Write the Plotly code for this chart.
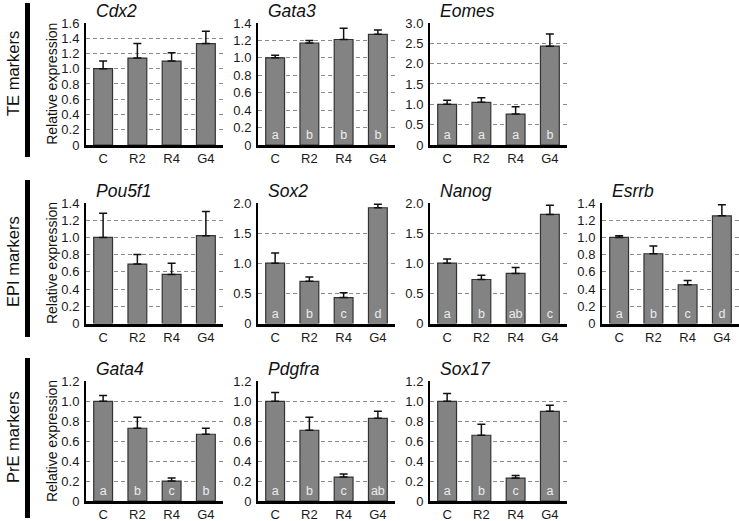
import plotly.graph_objects as go

groups = ["C", "R2", "R4", "G4"]

# mean relative expression and upper error (SEM) per gene
cdx2_mean = [1.00, 1.14, 1.10, 1.33]
cdx2_err = [0.10, 0.19, 0.11, 0.16]
gata3_mean = [1.00, 1.17, 1.21, 1.27]
gata3_err = [0.03, 0.03, 0.13, 0.05]
eomes_mean = [1.00, 1.05, 0.76, 2.43]
eomes_err = [0.10, 0.11, 0.18, 0.30]
pou5f1_mean = [1.00, 0.69, 0.57, 1.02]
pou5f1_err = [0.28, 0.11, 0.13, 0.28]
sox2_mean = [1.00, 0.70, 0.43, 1.92]
sox2_err = [0.17, 0.07, 0.08, 0.06]
nanog_mean = [1.00, 0.73, 0.83, 1.81]
nanog_err = [0.07, 0.07, 0.10, 0.15]
esrrb_mean = [1.00, 0.81, 0.45, 1.25]
esrrb_err = [0.02, 0.09, 0.05, 0.13]
gata4_mean = [1.00, 0.73, 0.20, 0.67]
gata4_err = [0.06, 0.11, 0.03, 0.06]
pdgfra_mean = [1.00, 0.71, 0.24, 0.83]
pdgfra_err = [0.09, 0.13, 0.03, 0.07]
sox17_mean = [1.00, 0.66, 0.23, 0.90]
sox17_err = [0.08, 0.11, 0.025, 0.06]

# significance letters
no_letters = ["", "", "", ""]
gata3_letters = ["a", "b", "b", "b"]
eomes_letters = ["a", "a", "a", "b"]
sox2_letters = ["a", "b", "c", "d"]
nanog_letters = ["a", "b", "ab", "c"]
esrrb_letters = ["a", "b", "c", "d"]
gata4_letters = ["a", "b", "c", "b"]
pdgfra_letters = ["a", "b", "c", "ab"]
sox17_letters = ["a", "b", "c", "a"]

# y tick values / labels
ticks_16 = [0, 0.2, 0.4, 0.6, 0.8, 1.0, 1.2, 1.4, 1.6]
ticks_14 = [0, 0.2, 0.4, 0.6, 0.8, 1.0, 1.2, 1.4]
ticks_12 = [0, 0.2, 0.4, 0.6, 0.8, 1.0, 1.2]
ticks_20 = [0, 0.5, 1.0, 1.5, 2.0]
ticks_30 = [0, 0.5, 1.0, 1.5, 2.0, 2.5, 3.0]

row_labels = ["TE markers", "EPI markers", "PrE markers"]
ylabel = "Relative expression"

# (name, mean, err, letters, ticks, row, col)
panels = [
    ("Cdx2", cdx2_mean, cdx2_err, no_letters, ticks_16, 0, 0),
    ("Gata3", gata3_mean, gata3_err, gata3_letters, ticks_14, 0, 1),
    ("Eomes", eomes_mean, eomes_err, eomes_letters, ticks_30, 0, 2),
    ("Pou5f1", pou5f1_mean, pou5f1_err, no_letters, ticks_14, 1, 0),
    ("Sox2", sox2_mean, sox2_err, sox2_letters, ticks_20, 1, 1),
    ("Nanog", nanog_mean, nanog_err, nanog_letters, ticks_20, 1, 2),
    ("Esrrb", esrrb_mean, esrrb_err, esrrb_letters, ticks_14, 1, 3),
    ("Gata4", gata4_mean, gata4_err, gata4_letters, ticks_12, 2, 0),
    ("Pdgfra", pdgfra_mean, pdgfra_err, pdgfra_letters, ticks_12, 2, 1),
    ("Sox17", sox17_mean, sox17_err, sox17_letters, ticks_12, 2, 2),
]

W, H = 739, 521
FONT = "Liberation Sans, Arial, sans-serif"
col_x = [86, 258, 430, 602]
panel_w = 137
row_top = [22.7, 202.7, 381.2]
row_bot = [145, 323.5, 501.0]


def fmt(v):
    return "0" if v == 0 else f"{v:.1f}"


fig = go.Figure()
layout = {}
annotations = []

for i, (name, mean, err, letters, ticks, r, c) in enumerate(panels):
    n = "" if i == 0 else str(i + 1)
    fig.add_trace(
        go.Bar(
            x=groups,
            y=mean,
            xaxis="x" + n,
            yaxis="y" + n,
            width=0.55,
            marker=dict(color="#838383", line=dict(color="#333333", width=1.2)),
            error_y=dict(
                type="data",
                array=err,
                arrayminus=[0] * 4,
                symmetric=False,
                color="#111111",
                thickness=1.5,
                width=4,
            ),
            text=letters,
            textposition="inside",
            insidetextanchor="start",
            textangle=0,
            constraintext="none",
            textfont=dict(color="#ececec", size=12.5, family=FONT),
            showlegend=False,
            hoverinfo="skip",
        )
    )
    x0 = col_x[c] / W
    x1 = min((col_x[c] + panel_w) / W, 1.0)
    y0 = 1 - row_bot[r] / H
    y1 = 1 - row_top[r] / H
    ymax = ticks[-1]
    layout["xaxis" + n] = dict(
        domain=[x0, x1],
        anchor="y" + n,
        range=[-0.5, 3.5],
        showline=True,
        linecolor="black",
        linewidth=2.5,
        showgrid=False,
        ticks="",
        ticklabelstandoff=0,
        tickfont=dict(size=13, color="#1a1a1a", family=FONT),
        automargin=False,
        fixedrange=True,
    )
    layout["yaxis" + n] = dict(
        domain=[y0, y1],
        anchor="x" + n,
        range=[0, ymax * 1.002],
        tickvals=ticks,
        ticktext=[fmt(t) for t in ticks],
        showline=True,
        linecolor="black",
        linewidth=2,
        showgrid=True,
        gridcolor="#8c8c8c",
        gridwidth=1,
        griddash="4px,3px",
        zeroline=False,
        ticks="",
        ticklabelstandoff=2,
        tickfont=dict(size=13, color="#1a1a1a", family=FONT),
        automargin=False,
        fixedrange=True,
    )
    annotations.append(
        dict(
            text=f"<i>{name}</i>",
            x=(col_x[c] + 8) / W,
            y=1 - (row_top[r] - 12) / H,
            xref="paper",
            yref="paper",
            xanchor="left",
            yanchor="middle",
            showarrow=False,
            font=dict(size=17.5, color="#111111", family=FONT),
        )
    )

shapes = []
label_y = [74, 262, 437]
bar_span = [(3, 157), (180, 337), (358, 518)]
for r in range(3):
    annotations.append(
        dict(
            text=row_labels[r],
            x=13 / W,
            y=1 - label_y[r] / H,
            xref="paper",
            yref="paper",
            xanchor="center",
            yanchor="middle",
            textangle=-90,
            showarrow=False,
            font=dict(size=16.5, color="#111111", family=FONT),
        )
    )
    annotations.append(
        dict(
            text=ylabel,
            x=52 / W,
            y=1 - (row_top[r] + row_bot[r]) / 2 / H,
            xref="paper",
            yref="paper",
            xanchor="center",
            yanchor="middle",
            textangle=-90,
            showarrow=False,
            font=dict(size=14, color="#111111", family=FONT),
        )
    )
    shapes.append(
        dict(
            type="rect",
            xref="paper",
            yref="paper",
            x0=25 / W,
            x1=30 / W,
            y0=1 - bar_span[r][1] / H,
            y1=1 - bar_span[r][0] / H,
            fillcolor="black",
            line=dict(width=0),
        )
    )

fig.update_layout(
    width=W,
    height=H,
    margin=dict(l=0, r=0, t=0, b=0),
    paper_bgcolor="white",
    plot_bgcolor="white",
    font=dict(family=FONT),
    annotations=annotations,
    shapes=shapes,
    **layout,
)

fig.write_html(
    "out.html",
    config={"displayModeBar": False},
    post_script="document.body.style.margin='0';document.body.style.overflow='hidden';",
)
